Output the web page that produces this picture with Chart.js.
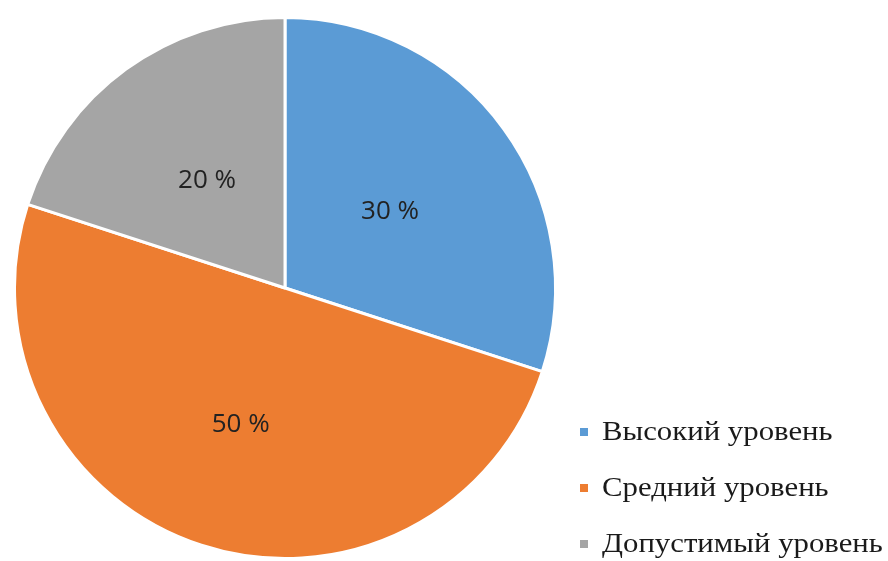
<!DOCTYPE html>
<html>
<head>
<meta charset="utf-8">
<script src="https://cdn.jsdelivr.net/npm/chart.js@4/dist/chart.umd.min.js"></script>
<style>
  html, body { margin: 0; padding: 0; background: #ffffff; }
  #wrap { width: 888px; height: 561px; position: relative; }
</style>
</head>
<body>
<div id="wrap"><canvas id="c" width="888" height="561"></canvas></div>
<script>
const categories = ['Высокий уровень', 'Средний уровень', 'Допустимый уровень'];
const values = [30, 50, 20];
const valueLabels = ['30 %', '50 %', '20 %'];
const colors = ['#5B9BD5', '#ED7D31', '#A5A5A5'];

const sliceLabels = {
  id: 'sliceLabels',
  afterDatasetsDraw(chart, args, opts) {
    const ctx = chart.ctx;
    const meta = chart.getDatasetMeta(0);
    ctx.save();
    ctx.font = '26px "Open Sans", "Noto Sans", sans-serif';
    ctx.fillStyle = '#222222';
    ctx.textAlign = 'center';
    ctx.textBaseline = 'middle';
    meta.data.forEach((arc, i) => {
      const p = arc.getProps(['x', 'y', 'startAngle', 'endAngle', 'outerRadius'], true);
      const mid = (p.startAngle + p.endAngle) / 2;
      const r = p.outerRadius * opts.radius[i];
      ctx.fillText(valueLabels[i], p.x + Math.cos(mid) * r, p.y + Math.sin(mid) * r);
    });
    ctx.restore();
  }
};

const customLegend = {
  id: 'customLegend',
  afterDraw(chart) {
    const ctx = chart.ctx;
    ctx.save();
    ctx.font = '27px "Liberation Serif", "Times New Roman", serif';
    ctx.textAlign = 'left';
    ctx.textBaseline = 'alphabetic';
    const x0 = 580, tx = 602, y0 = 440, dy = 56, box = 8;
    categories.forEach((name, i) => {
      const y = y0 + i * dy;
      ctx.fillStyle = colors[i];
      ctx.fillRect(x0, y - 12, box, box);
      ctx.fillStyle = '#1a1a1a';
      ctx.save();
      ctx.translate(tx, y);
      ctx.scale(1.14, 1);
      ctx.fillText(name, 0, 0);
      ctx.restore();
    });
    ctx.restore();
  }
};

new Chart(document.getElementById('c'), {
  type: 'pie',
  data: {
    labels: categories,
    datasets: [{
      data: values,
      backgroundColor: colors,
      borderColor: '#ffffff',
      borderWidth: 3
    }]
  },
  options: {
    responsive: false,
    animation: false,
    layout: { padding: { left: 13, right: 331, top: 16, bottom: 1 } },
    plugins: {
      legend: { display: false },
      tooltip: { enabled: false },
      sliceLabels: { radius: [0.48, 0.53, 0.49] }
    }
  },
  plugins: [sliceLabels, customLegend]
});
</script>
</body>
</html>
